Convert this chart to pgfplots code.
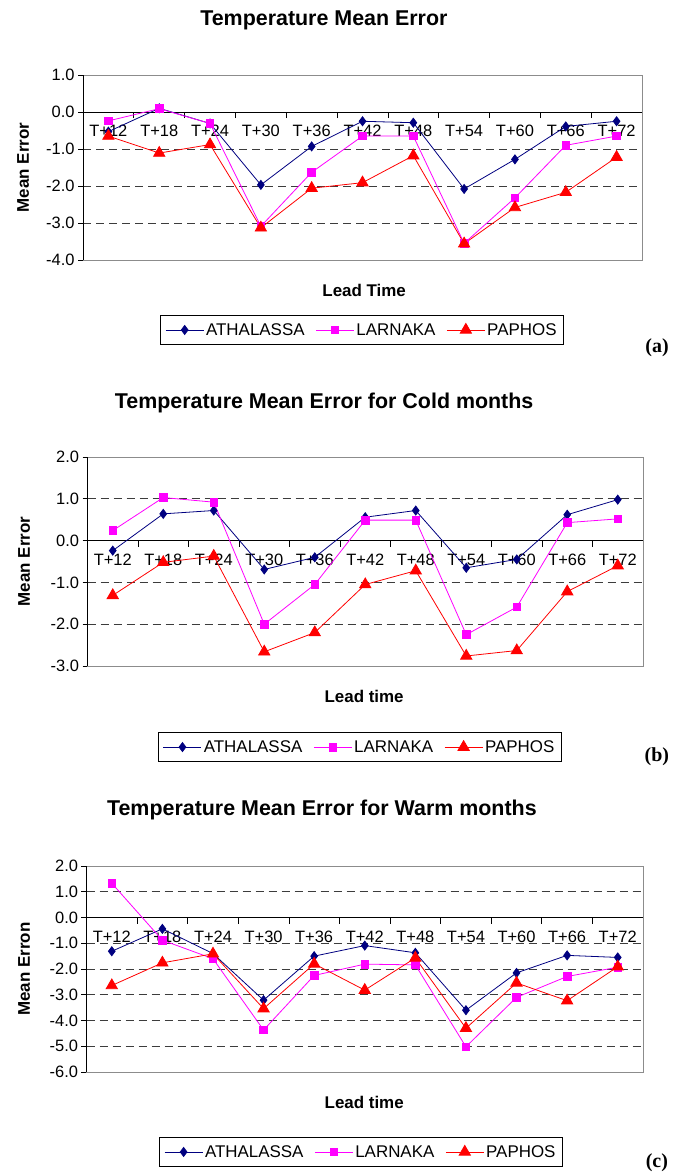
\documentclass[border=0pt]{standalone}
\usepackage{pgfplots}
\pgfplotsset{compat=1.18}
\usepackage{fontspec}
\setmainfont{Liberation Sans}
\newfontfamily\timesfont{Liberation Serif}
\definecolor{navyc}{RGB}{0,0,128}
\definecolor{magc}{RGB}{255,0,255}
\definecolor{redc}{RGB}{255,0,0}
\definecolor{gridc}{RGB}{60,60,60}
\definecolor{framec}{RGB}{140,140,140}
\pgfplotsset{
  every axis title shift=0pt,
  panel/.style={
    scale only axis,
    clip=false,
    xmin=-0.5, xmax=10.5,
    axis x line=middle,
    axis y line=left,
    axis line style={-, black, line width=0.8bp},
    tick align=outside,
    xtick={0,...,10},
    xticklabels={T+12,T+18,T+24,T+30,T+36,T+42,T+48,T+54,T+60,T+66,T+72},
    major x tick style={draw=none},
    minor xtick={-0.5,0.5,...,10.5},
    minor tick length=6bp,
    major tick length=5bp,
    tick style={black, line width=0.7bp},
    ymajorgrids,
    grid style={gridc, dash pattern=on 8bp off 5bp, line width=0.8bp},
    /pgf/number format/assume math mode=true,
    yticklabel={\pgfmathprintnumber[fixed,fixed zerofill,precision=1]{\tick}},
    ticklabel style={font=\fontsize{16.5}{18}\selectfont},
    xticklabel style={anchor=center, yshift=-14bp},
    title style={anchor=center, font=\bfseries\fontsize{21.5}{24}\selectfont},
    xlabel style={anchor=center, font=\bfseries\fontsize{17}{19}\selectfont},
    ylabel style={anchor=center, rotate=0, font=\bfseries\fontsize{17}{19}\selectfont},
    legend style={draw=black, line width=0.8bp, fill=white, anchor=center,
      legend columns=3, font=\fontsize{17}{19}\selectfont,
      /tikz/every even column/.append style={column sep=9bp},
      inner xsep=5bp, inner ysep=6bp},
    legend image code/.code={\draw[mark repeat=2,mark phase=2] plot coordinates {(0bp,0bp) (19bp,0bp) (38bp,0bp)};},
  },
  ath/.style={navyc, line width=0.8bp, mark=diamond*, mark size=4.5bp, mark options={solid, fill=navyc, draw=navyc}},
  lar/.style={magc, line width=0.8bp, mark=square*, mark size=3.8bp, mark options={solid, fill=magc, draw=magc}},
  pap/.style={redc, line width=0.8bp, mark=triangle*, mark size=6.5bp, mark options={solid, fill=redc, draw=redc}},
}
\begin{document}
\begin{tikzpicture}
\path[use as bounding box] (0,0) rectangle (685bp,-1174bp);
% ---------------- (a)
\begin{axis}[panel,
  at={(83bp,-260bp)}, anchor=south west,
  width=559bp, height=185bp,
  ymin=-4, ymax=1, ytick={-4,-3,...,1},
  title={Temperature Mean Error},
  title style={at={(axis description cs:0.431,1.297)}},
  xlabel={Lead Time},
  xlabel style={at={(axis description cs:0.503,-0.162)}},
  ylabel={Mean Error},
  ylabel style={at={(axis description cs:-0.107,0.5)}},
  legend style={at={(axis description cs:0.499,-0.378)}},
]
\draw[framec, line width=0.8bp] (rel axis cs:0,0) rectangle (rel axis cs:1,1);
\draw[black, line width=0.8bp] (rel axis cs:0,0) -- (rel axis cs:0,1);
\addplot[ath] coordinates {(0,-0.53) (1,0.10) (2,-0.31) (3,-1.97) (4,-0.93) (5,-0.25) (6,-0.29) (7,-2.08) (8,-1.28) (9,-0.39) (10,-0.25)};
\addplot[lar] coordinates {(0,-0.24) (1,0.09) (2,-0.31) (3,-3.09) (4,-1.63) (5,-0.65) (6,-0.65) (7,-3.55) (8,-2.32) (9,-0.90) (10,-0.65)};
\addplot[pap] coordinates {(0,-0.65) (1,-1.11) (2,-0.88) (3,-3.13) (4,-2.06) (5,-1.91) (6,-1.18) (7,-3.56) (8,-2.58) (9,-2.17) (10,-1.22)};
\legend{ATHALASSA,LARNAKA,PAPHOS}
\node[font=\timesfont\bfseries\fontsize{20}{22}\selectfont] at (axis description cs:1.027,-0.476) {(a)};
\end{axis}
% ---------------- (b)
\begin{axis}[panel,
  at={(87.5bp,-666bp)}, anchor=south west,
  width=555.5bp, height=209bp,
  ymin=-3, ymax=2, ytick={-3,-2,...,2},
  title={Temperature Mean Error for Cold months},
  title style={at={(axis description cs:0.426,1.258)}},
  xlabel={Lead time},
  xlabel style={at={(axis description cs:0.498,-0.148)}},
  ylabel={Mean Error},
  ylabel style={at={(axis description cs:-0.114,0.5)}},
  legend style={at={(axis description cs:0.49,-0.388)}},
]
\draw[framec, line width=0.8bp] (rel axis cs:0,0) rectangle (rel axis cs:1,1);
\draw[black, line width=0.8bp] (rel axis cs:0,0) -- (rel axis cs:0,1);
\addplot[ath] coordinates {(0,-0.24) (1,0.64) (2,0.72) (3,-0.69) (4,-0.40) (5,0.56) (6,0.72) (7,-0.65) (8,-0.45) (9,0.62) (10,0.98)};
\addplot[lar] coordinates {(0,0.24) (1,1.03) (2,0.92) (3,-2.00) (4,-1.05) (5,0.49) (6,0.49) (7,-2.25) (8,-1.59) (9,0.43) (10,0.52)};
\addplot[pap] coordinates {(0,-1.31) (1,-0.52) (2,-0.37) (3,-2.66) (4,-2.20) (5,-1.05) (6,-0.72) (7,-2.76) (8,-2.63) (9,-1.22) (10,-0.60)};
\legend{ATHALASSA,LARNAKA,PAPHOS}
\node[font=\timesfont\bfseries\fontsize{20}{22}\selectfont] at (axis description cs:1.025,-0.435) {(b)};
\end{axis}
% ---------------- (c)
\begin{axis}[panel,
  at={(86.5bp,-1072bp)}, anchor=south west,
  width=556.5bp, height=206bp,
  ymin=-6, ymax=2, ytick={-6,-5,...,2},
  title={Temperature Mean Error for Warm months},
  title style={at={(axis description cs:0.423,1.272)}},
  xlabel={Lead time},
  xlabel style={at={(axis description cs:0.499,-0.150)}},
  ylabel={Mean Erron},
  ylabel style={at={(axis description cs:-0.112,0.5)}},
  legend style={at={(axis description cs:0.493,-0.388)}},
]
\draw[framec, line width=0.8bp] (rel axis cs:0,0) rectangle (rel axis cs:1,1);
\draw[black, line width=0.8bp] (rel axis cs:0,0) -- (rel axis cs:0,1);
\addplot[ath] coordinates {(0,-1.31) (1,-0.44) (2,-1.40) (3,-3.21) (4,-1.50) (5,-1.09) (6,-1.37) (7,-3.60) (8,-2.15) (9,-1.47) (10,-1.55)};
\addplot[lar] coordinates {(0,1.33) (1,-0.88) (2,-1.60) (3,-4.37) (4,-2.25) (5,-1.81) (6,-1.84) (7,-5.02) (8,-3.10) (9,-2.29) (10,-1.93)};
\addplot[pap] coordinates {(0,-2.64) (1,-1.76) (2,-1.41) (3,-3.54) (4,-1.80) (5,-2.82) (6,-1.57) (7,-4.30) (8,-2.54) (9,-3.23) (10,-1.91)};
\legend{ATHALASSA,LARNAKA,PAPHOS}
\node[font=\timesfont\bfseries\fontsize{20}{22}\selectfont] at (axis description cs:1.025,-0.442) {(c)};
\end{axis}
\end{tikzpicture}
\end{document}
